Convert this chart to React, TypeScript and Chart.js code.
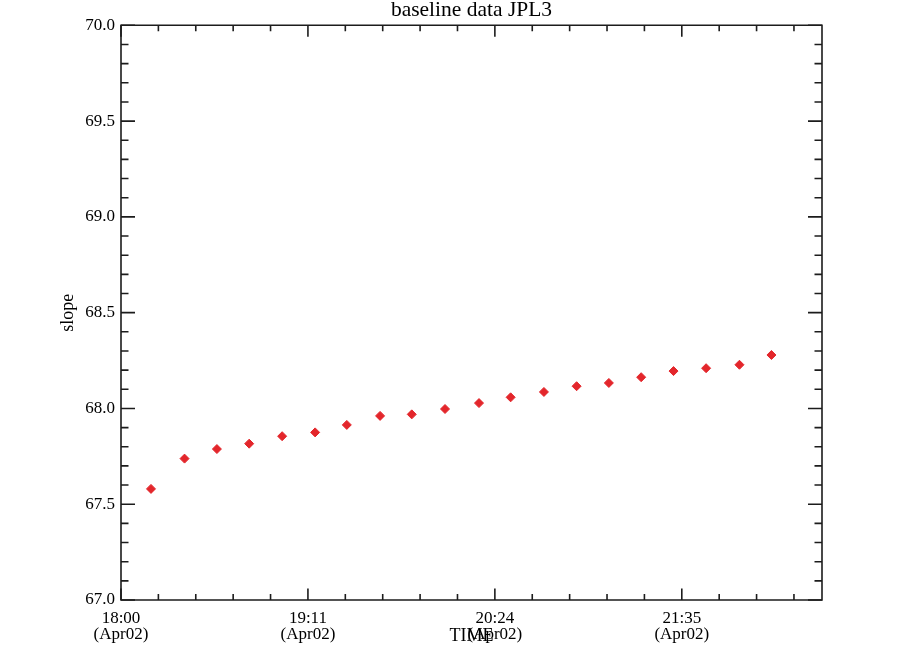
import React, { useEffect, useRef } from "react";
import { Chart, registerables } from "chart.js";

Chart.register(...registerables);

// Elapsed minutes since 18:00 (Apr02)
const timeMinutes = [
  11.55, 24.47, 36.94, 49.37, 62.07, 74.77, 86.97, 99.79, 111.99, 124.8,
  137.89, 150.08, 162.9, 175.48, 187.91, 200.35, 212.81, 225.36, 238.21, 250.53,
];
const slopeValues = [
  67.58, 67.738, 67.788, 67.816, 67.855, 67.875, 67.914, 67.961, 67.969, 67.997,
  68.028, 68.058, 68.086, 68.116, 68.133, 68.163, 68.195, 68.21, 68.228, 68.279,
];

const xMajorTicks = [0, 72, 144, 216];
const xTickLabels = [
  ["18:00", "(Apr02)"],
  ["19:11", "(Apr02)"],
  ["20:24", "(Apr02)"],
  ["21:35", "(Apr02)"],
];
const xMinorStep = 14.4;
const xRange = [0, 270];

const yMajorTicks = [67.0, 67.5, 68.0, 68.5, 69.0, 69.5, 70.0];
const yTickLabels = ["67.0", "67.5", "68.0", "68.5", "69.0", "69.5", "70.0"];
const yMinorStep = 0.1;
const yRange = [67.0, 70.0];

const FONT = "'Liberation Serif', 'Times New Roman', serif";

const near = (a: number, b: number, eps = 1e-6) => Math.abs(a - b) < eps;
const xMajorIndex = (v: number) => xMajorTicks.findIndex((m) => near(m, v));
const yMajorIndex = (v: number) => yMajorTicks.findIndex((m) => near(m, v));

const axisBoxPlugin = {
  id: "axisBox",
  afterDatasetsDraw(chart: any) {
    const { ctx, chartArea, scales } = chart;
    const { left, right, top, bottom } = chartArea;
    const xs = scales.x;
    const ys = scales.y;
    ctx.save();
    ctx.strokeStyle = "#1c1c1c";
    ctx.lineWidth = 1.6;
    ctx.beginPath();
    xs.ticks.forEach((t: any) => {
      const px = xs.getPixelForValue(t.value);
      const len = xMajorIndex(t.value) >= 0 ? 11.5 : 6;
      ctx.moveTo(px, bottom);
      ctx.lineTo(px, bottom - len);
      ctx.moveTo(px, top);
      ctx.lineTo(px, top + len);
    });
    ys.ticks.forEach((t: any) => {
      const py = ys.getPixelForValue(t.value);
      const len = yMajorIndex(t.value) >= 0 ? 14 : 7.5;
      ctx.moveTo(left, py);
      ctx.lineTo(left + len, py);
      ctx.moveTo(right, py);
      ctx.lineTo(right - len, py);
    });
    ctx.stroke();
    ctx.beginPath();
    ctx.rect(left, top, right - left, bottom - top);
    ctx.stroke();
    ctx.restore();
  },
};

export default function App() {
  const canvasRef = useRef<HTMLCanvasElement | null>(null);

  useEffect(() => {
    if (!canvasRef.current) return;
    const points = timeMinutes.map((t, i) => ({ x: t, y: slopeValues[i] }));

    const chart = new Chart(canvasRef.current, {
      type: "scatter",
      data: {
        datasets: [
          {
            data: points,
            pointStyle: "rectRot",
            pointRadius: 4.5,
            pointBorderWidth: 1,
            backgroundColor: "#e3262b",
            borderColor: "#e3262b",
            showLine: false,
          },
        ],
      },
      options: {
        animation: false,
        responsive: false,
        maintainAspectRatio: false,
        layout: { padding: { left: 0, right: 81, top: 0, bottom: 0 } },
        plugins: {
          legend: { display: false },
          tooltip: { enabled: false },
          title: {
            display: true,
            text: "baseline data JPL3",
            fullSize: false,
            color: "#000",
            font: { family: FONT, size: 21.5, weight: "normal", lineHeight: 1.0 },
            padding: { top: 0, bottom: 3.8 },
          },
        },
        scales: {
          x: {
            type: "linear",
            min: xRange[0],
            max: xRange[1],
            grid: { display: false, drawTicks: false },
            border: { display: false },
            afterBuildTicks: (scale: any) => {
              const ticks = [];
              for (let i = 0; i * xMinorStep <= xRange[1] - 1e-6; i++) {
                ticks.push({ value: +(i * xMinorStep).toFixed(4) });
              }
              scale.ticks = ticks;
            },
            afterFit: (scale: any) => {
              scale.height = 56;
            },
            ticks: {
              autoSkip: false,
              maxRotation: 0,
              minRotation: 0,
              padding: 10,
              color: "#000",
              font: { family: FONT, size: 17, lineHeight: 16.5 / 17 },
              callback: (value: any) => {
                const idx = xMajorIndex(Number(value));
                return idx >= 0 ? xTickLabels[idx] : "";
              },
            },
            title: {
              display: true,
              text: "TIME",
              color: "#000",
              font: { family: FONT, size: 18, lineHeight: 1.2 },
              padding: { top: 0, bottom: 8.6 },
            },
          },
          y: {
            type: "linear",
            min: yRange[0],
            max: yRange[1],
            grid: { display: false, drawTicks: false },
            border: { display: false },
            afterBuildTicks: (scale: any) => {
              const ticks = [];
              const n = Math.round((yRange[1] - yRange[0]) / yMinorStep);
              for (let i = 0; i <= n; i++) {
                ticks.push({ value: +(yRange[0] + i * yMinorStep).toFixed(4) });
              }
              scale.ticks = ticks;
            },
            afterFit: (scale: any) => {
              scale.width = 121;
            },
            ticks: {
              autoSkip: false,
              padding: 6,
              color: "#000",
              font: { family: FONT, size: 17 },
              callback: (value: any) => {
                const idx = yMajorIndex(Number(value));
                return idx >= 0 ? yTickLabels[idx] : "";
              },
            },
            title: {
              display: true,
              text: "slope",
              color: "#000",
              font: { family: FONT, size: 18, lineHeight: 1.2 },
              padding: { top: 57, bottom: 0 },
            },
          },
        },
      },
      plugins: [axisBoxPlugin],
    });

    return () => chart.destroy();
  }, []);

  return (
    <div
      style={{
        position: "fixed",
        left: 0,
        top: 0,
        width: 903,
        height: 656,
        background: "#fff",
      }}
    >
      <canvas ref={canvasRef} width={903} height={656} />
    </div>
  );
}
